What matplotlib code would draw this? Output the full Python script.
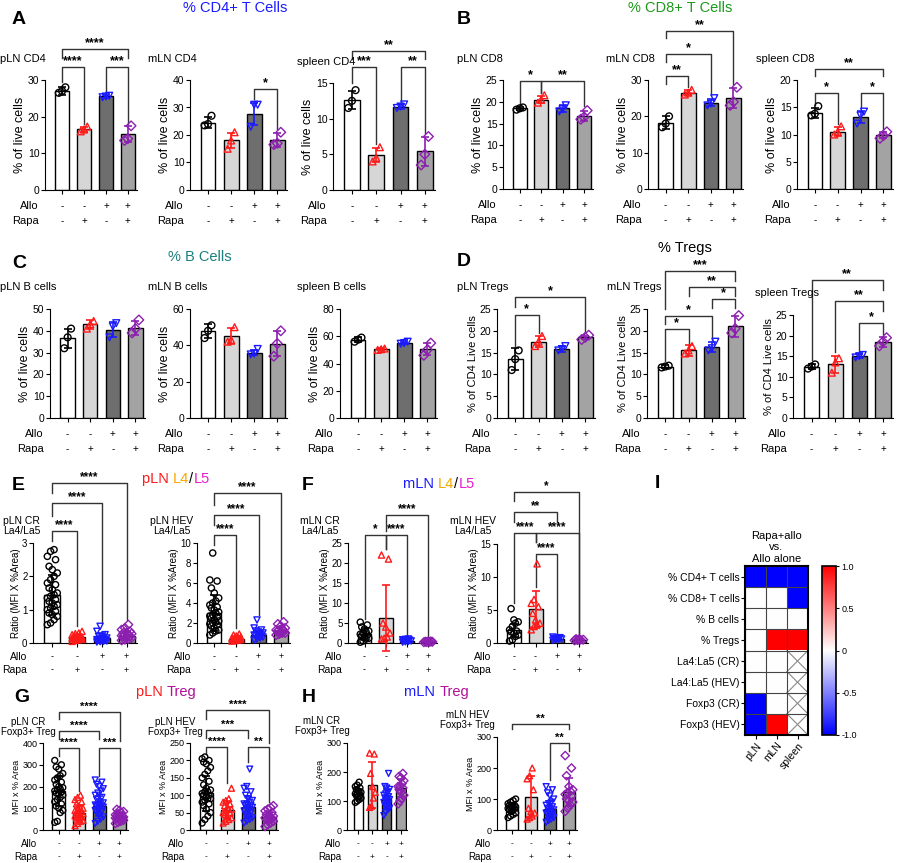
import numpy as np
import matplotlib
matplotlib.use("Agg")
import matplotlib.pyplot as plt
from matplotlib.colors import LinearSegmentedColormap

plt.rcParams['font.family'] = ['Liberation Sans', 'DejaVu Sans']

W, H = 900, 863
fig = plt.figure(figsize=(W / 100, H / 100), dpi=100)

bar_colors = ['white', '#d6d6d6', '#6e6e6e', '#a3a3a3']
pt_colors = ['black', '#ff1a1a', '#1a1aff', '#8c1fb0']
pt_markers = ['o', '^', 'v', 'D']
allo_signs = ['-', '-', '+', '+']
rapa_signs = ['-', '+', '-', '+']

# ---------------- data ----------------
# A: % CD4+ T cells
pln_cd4_mean = [27, 16.5, 25.5, 15.2]
pln_cd4_sd = [1.0, 0.8, 0.3, 2.2]
pln_cd4_pts = [[26.5, 27, 28], [16, 16.5, 17.3], [25.3, 25.5, 25.7], [13.5, 14, 17.5]]
mln_cd4_mean = [24.5, 18, 27.5, 18.3]
mln_cd4_sd = [2, 2.8, 4, 2.5]
mln_cd4_pts = [[23.5, 24, 27], [15, 18, 21], [23, 31, 31], [16.5, 17, 21]]
spl_cd4_mean = [12.6, 4.9, 11.7, 5.4]
spl_cd4_sd = [1.3, 1.0, 0.3, 2.0]
spl_cd4_pts = [[11.5, 12.5, 14], [4, 4.5, 6], [11.5, 11.7, 12], [3.5, 5, 7.5]]

# B: % CD8+ T cells
pln_cd8_mean = [18.5, 20.5, 18.5, 16.8]
pln_cd8_sd = [0.3, 0.8, 0.8, 1.2]
pln_cd8_pts = [[18.2, 18.5, 18.7], [19.8, 20.5, 21.5], [17.8, 18.3, 19.2], [16, 16.5, 18]]
mln_cd8_mean = [18.3, 26.5, 23.8, 25]
mln_cd8_sd = [1.7, 0.7, 1.0, 2.7]
mln_cd8_pts = [[17, 18, 20], [26, 26.5, 27.3], [23, 23.5, 25], [23, 24, 28]]
spl_cd8_mean = [14, 10.5, 13.2, 9.9]
spl_cd8_sd = [0.9, 0.8, 1.1, 0.6]
spl_cd8_pts = [[13.5, 13.8, 15.2], [10, 10.5, 11.5], [12, 13.5, 14.2], [9.3, 9.8, 10.5]]

# C: % B cells
pln_b_mean = [36.5, 43, 40.5, 41.5]
pln_b_sd = [4.3, 2, 3.5, 3.2]
pln_b_pts = [[32, 37, 41], [41, 43, 44.5], [37, 42, 43.5], [39, 41, 45]]
mln_b_mean = [48, 45, 36, 41]
mln_b_sd = [4, 4.5, 1.5, 7]
mln_b_pts = [[44, 48, 51], [42, 43, 50], [35, 35.5, 38], [34, 41, 48]]
spl_b_mean = [57.5, 50.5, 55, 50.5]
spl_b_sd = [1.7, 0.8, 1, 4.5]
spl_b_pts = [[56, 57.5, 59], [50, 50.5, 51], [54.5, 55, 56], [46, 50, 55]]

# D: % Tregs
pln_treg_mean = [13.5, 17.5, 15.8, 18.5]
pln_treg_sd = [2.5, 1.3, 0.7, 0.4]
pln_treg_pts = [[11, 13.5, 15.5], [16.5, 17.5, 18.8], [15.5, 15.8, 16.5], [18, 18.5, 19]]
mln_treg_mean = [11.8, 15.5, 16.3, 21]
mln_treg_sd = [0.3, 1.2, 1.2, 2.5]
mln_treg_pts = [[11.6, 11.8, 12], [14.8, 15.5, 16.5], [15.5, 16, 17.5], [19.5, 20.5, 23.5]]
spl_treg_mean = [12.5, 13, 15, 18.5]
spl_treg_sd = [0.5, 2, 0.5, 1.2]
spl_treg_pts = [[12, 12.5, 13], [11, 13.5, 14.5], [14.7, 15, 15.3], [17.5, 18.5, 19.5]]

# E: pLN La4/La5
pln_cr_la_mean = [1.45, 0.18, 0.15, 0.22]
pln_cr_la_sd = [0.6, 0.1, 0.15, 0.12]
pln_cr_la_pts = [
    [2.8, 2.75, 2.6, 2.5, 2.3, 2.1, 2.0, 1.9, 1.8, 1.75, 1.6, 1.5, 1.45, 1.4, 1.3, 1.25,
     1.2, 1.15, 1.1, 1.0, 0.95, 0.9, 0.85, 0.8, 0.7, 0.6, 0.55, 1.35, 1.05, 1.65, 2.2],
    [0.35, 0.3, 0.28, 0.25, 0.22, 0.2, 0.18, 0.16, 0.15, 0.13, 0.12, 0.1, 0.08, 0.05, 0.2, 0.17, 0.14, 0.11],
    [0.5, 0.35, 0.25, 0.2, 0.15, 0.12, 0.1, 0.08, 0.06, 0.05, 0.04, 0.03, 0.1, 0.14, 0.18, 0.07],
    [0.55, 0.45, 0.4, 0.35, 0.3, 0.28, 0.25, 0.22, 0.2, 0.18, 0.15, 0.12, 0.1, 0.08, 0.3, 0.2, 0.25]]
pln_hev_la_mean = [3.0, 0.45, 0.8, 1.2]
pln_hev_la_sd = [1.8, 0.2, 0.4, 0.4]
pln_hev_la_pts = [
    [9, 6.3, 6.2, 5.5, 5, 4.5, 4.2, 3.8, 3.5, 3.3, 3.1, 3, 2.8, 2.6, 2.5, 2.3, 2.1, 2, 1.9,
     1.7, 1.5, 1.3, 1.2, 1, 0.8, 3.6, 2.7, 2.2, 1.8, 4],
    [0.9, 0.8, 0.7, 0.6, 0.55, 0.5, 0.45, 0.4, 0.35, 0.3, 0.25, 0.2, 0.5, 0.4],
    [2.3, 1.5, 1.3, 1.2, 1.1, 1, 0.9, 0.8, 0.75, 0.7, 0.6, 0.5, 0.4, 0.3, 0.9, 0.8],
    [2.1, 1.9, 1.7, 1.5, 1.4, 1.3, 1.2, 1.1, 1, 0.9, 0.8, 1.2, 1.0, 1.3]]

# F: mLN La4/La5
mln_cr_la_mean = [2.2, 6.2, 0.5, 0.3]
mln_cr_la_sd = [1.5, 8.2, 0.3, 0.1]
mln_cr_la_pts = [
    [5.2, 4.5, 4, 3.5, 3, 2.5, 2, 1.8, 1.5, 1.2, 1, 0.5, 0.2, 2.2, 2.8],
    [22, 21, 5, 4, 2.5, 1.5, 1, 1.2],
    [1, 0.9, 0.8, 0.7, 0.6, 0.5, 0.4, 0.3, 0.2, 0.6],
    [0.4, 0.35, 0.3, 0.25, 0.2, 0.3, 0.35]]
mln_hev_la_mean = [1.9, 5.1, 0.6, 0.5]
mln_hev_la_sd = [1.0, 2.8, 0.2, 0.1]
mln_hev_la_pts = [
    [5.2, 3.5, 3.2, 3, 2.5, 2, 1.8, 1.5, 1.2, 1, 0.5, 0.3, 1.7],
    [12, 6.6, 6, 5.5, 4.5, 3.5, 2.8, 2.5, 2, 3],
    [0.9, 0.8, 0.7, 0.6, 0.5, 0.4, 0.6, 0.7],
    [0.6, 0.55, 0.5, 0.45, 0.4, 0.5]]

# G: pLN Foxp3+ Treg
pln_cr_fox_mean = [180, 80, 110, 58]
pln_cr_fox_sd = [70, 35, 45, 18]
pln_cr_fox_pts = [
    [320, 300, 290, 280, 260, 250, 240, 230, 220, 210, 200, 195, 190, 180, 170, 160, 150,
     140, 130, 120, 110, 100, 90, 80, 40, 35, 185, 175, 165],
    [160, 150, 140, 130, 120, 110, 100, 95, 90, 85, 80, 75, 70, 65, 60, 55, 50, 45, 40,
     30, 20, 100, 80, 70],
    [230, 220, 210, 200, 190, 180, 170, 160, 150, 140, 130, 120, 115, 110, 105, 100, 95,
     90, 85, 80, 70, 60, 50, 40, 30, 125, 115, 110, 105],
    [95, 90, 85, 80, 75, 70, 65, 60, 58, 55, 52, 50, 48, 45, 40, 35, 30, 60, 55, 65]]
pln_hev_fox_mean = [105, 57, 67, 37]
pln_hev_fox_sd = [50, 25, 30, 15]
pln_hev_fox_pts = [
    [210, 205, 200, 195, 190, 180, 170, 160, 150, 140, 130, 120, 115, 110, 105, 100, 95,
     90, 85, 80, 75, 70, 60, 50, 40, 30, 20, 100, 110, 90],
    [120, 90, 85, 80, 75, 70, 65, 60, 55, 50, 45, 40, 35, 30, 25, 20, 60, 50],
    [175, 125, 120, 110, 100, 90, 85, 80, 75, 70, 65, 60, 55, 50, 45, 40, 35, 30, 25, 20,
     70, 65, 60, 75],
    [70, 65, 60, 55, 50, 45, 40, 38, 35, 32, 30, 28, 25, 20, 15, 10, 40, 35]]

# H: mLN Foxp3+ Treg
mln_cr_fox_mean = [125, 155, 107, 145]
mln_cr_fox_sd = [18, 80, 35, 30]
mln_cr_fox_pts = [
    [165, 155, 150, 145, 140, 135, 130, 125, 120, 115, 110, 105, 100, 95, 130, 120, 125],
    [265, 262, 195, 150, 130, 110, 82, 78],
    [195, 150, 145, 140, 130, 125, 120, 115, 110, 105, 100, 95, 90, 85, 80, 75, 70, 60,
     50, 110, 100],
    [195, 185, 180, 170, 160, 150, 140, 130, 120, 110, 100, 90, 150, 145]]
mln_hev_fox_mean = [73, 108, 67, 122]
mln_hev_fox_sd = [15, 65, 25, 45]
mln_hev_fox_pts = [
    [100, 95, 90, 85, 80, 78, 75, 72, 70, 68, 65, 60, 55, 50, 45, 40, 75, 80],
    [200, 175, 165, 130, 70, 55, 45, 40, 35, 60],
    [140, 130, 120, 110, 100, 90, 85, 80, 75, 70, 65, 60, 55, 50, 45, 40, 35, 30, 25, 70,
     60, 50],
    [240, 200, 175, 140, 130, 125, 120, 115, 110, 100, 95, 90, 80, 70, 60]]

# I: heatmap
heat_rows = ['% CD4+ T cells', '% CD8+ T cells', '% B cells', '% Tregs',
             'La4:La5 (CR)', 'La4:La5 (HEV)', 'Foxp3 (CR)', 'Foxp3 (HEV)']
heat_cols = ['pLN', 'mLN', 'spleen']
heat_vals = np.array([
    [-1, -1, -1],
    [0, 0, -1],
    [0, 0, 0],
    [0, 1, 1],
    [0, 0, np.nan],
    [0, 0, np.nan],
    [-1, 0, np.nan],
    [-1, 1, np.nan]])


# ---------------- helpers ----------------
def px_axes(l, r, t, b):
    return fig.add_axes([l / W, 1 - b / H, (r - l) / W, (b - t) / H])


def bar_panel(box, mean, sd, pts, ymax, step, ylabel, title, title_xy, brackets,
              fs=7.5, lfs=9, ms=6, small=False, tha='left'):
    ax = px_axes(*box)
    x = np.arange(4)
    for i in range(4):
        ax.bar(i, mean[i], width=0.64, color=bar_colors[i], edgecolor='black',
               linewidth=1, zorder=1)
        p = np.asarray(pts[i], dtype=float)
        n = len(p)
        if n <= 3:
            off = np.linspace(-0.15, 0.15, n)
        else:
            order = np.argsort(p)
            off = np.zeros(n)
            off[order] = np.tile([-0.2, -0.07, 0.07, 0.2, 0.0, -0.13, 0.13], n)[:n]
        ax.scatter(i + off, p, marker=pt_markers[i], s=ms * 4, facecolors='none',
                   edgecolors=pt_colors[i], linewidths=1, zorder=3, clip_on=False)
        ax.errorbar(i, mean[i], yerr=sd[i], color=pt_colors[i], capsize=3,
                    elinewidth=1.2, capthick=1.2, zorder=4, clip_on=False)
    ax.set_xlim(-0.78, 3.42)
    ax.set_ylim(0, ymax)
    ax.set_yticks(np.arange(0, ymax + step / 2, step))
    ax.set_xticks(x)
    ax.set_xticklabels([])
    ax.tick_params(axis='y', labelsize=fs, length=3, pad=1)
    ax.tick_params(axis='x', length=3)
    for s in ['top', 'right']:
        ax.spines[s].set_visible(False)
    ax.set_ylabel(ylabel, fontsize=lfs, labelpad=1)
    off1, off2 = (-16, -31) if not small else (-14, -27)
    for i in range(4):
        for sign, dy in ((allo_signs[i], off1), (rapa_signs[i], off2)):
            ax.annotate(sign, xy=(i, 0), xycoords=('data', 'axes fraction'),
                        xytext=(0, dy), textcoords='offset pixels', ha='center',
                        va='center', fontsize=fs - 0.5)
    for lab, dy in (('Allo', off1), ('Rapa', off2)):
        ax.annotate(lab, xy=(-0.78, 0), xycoords=('data', 'axes fraction'),
                    xytext=(-6, dy), textcoords='offset pixels', ha='right',
                    va='center', fontsize=fs + 0.5)
    for (i, j, y, lab, yi, yj) in brackets:
        ax.plot([i, i, j, j], [yi, y, y, yj], color='#333333', lw=1, clip_on=False)
        ax.text((i + j) / 2, y, lab, ha='center', va='bottom', fontsize=fs + 1.5,
                fontweight='bold', linespacing=0.8)
    fig.text(title_xy[0] / W, 1 - title_xy[1] / H, title, fontsize=fs + 0.5,
             ha=tha, va='center', linespacing=1.1, multialignment='center')
    return ax


def color_title(x, y, pieces, fs=10.5):
    r = fig.canvas.get_renderer()
    cx = x
    for txt, col in pieces:
        t = fig.text(cx / W, 1 - y / H, txt, color=col, fontsize=fs, ha='left',
                     va='center')
        cx += t.get_window_extent(r).width


def letter(x, y, s):
    fig.text(x / W, 1 - y / H, s, fontsize=14, fontweight='bold', ha='left',
             va='center')


# ---------------- panels ----------------
ylab = '% of live cells'
bar_panel((45, 137, 80, 190), pln_cd4_mean, pln_cd4_sd, pln_cd4_pts, 30, 10, ylab,
          'pLN CD4', (0, 59),
          [(0, 1, 33.5, '****', 29.5, 18), (2, 3, 33.5, '***', 27, 18),
           (0, 3, 38.5, '****', 36, 36)])
bar_panel((190, 287, 80, 190), mln_cd4_mean, mln_cd4_sd, mln_cd4_pts, 40, 10, ylab,
          'mLN CD4', (148, 59), [(2, 3, 36.7, '*', 33, 22)])
bar_panel((333, 435, 83, 190), spl_cd4_mean, spl_cd4_sd, spl_cd4_pts, 15, 5, ylab,
          'spleen CD4', (297, 62),
          [(0, 1, 17.2, '***', 15, 6.5), (2, 3, 17.2, '**', 12.5, 8),
           (0, 3, 19.5, '**', 18.3, 18.3)])

bar_panel((503, 593, 80, 189), pln_cd8_mean, pln_cd8_sd, pln_cd8_pts, 25, 5, ylab,
          'pLN CD8', (457, 59),
          [(0, 1, 24.8, '*', 19.5, 22), (1, 3, 24.8, '**', 22, 19)])
bar_panel((648, 743, 80, 189), mln_cd8_mean, mln_cd8_sd, mln_cd8_pts, 30, 10, ylab,
          'mLN CD8', (606, 59),
          [(0, 1, 31.1, '**', 29, 28), (0, 2, 37.2, '*', 35, 26),
           (0, 3, 43.5, '**', 41.5, 29)])
bar_panel((797, 893, 80, 189), spl_cd8_mean, spl_cd8_sd, spl_cd8_pts, 20, 5, ylab,
          'spleen CD8', (756, 59),
          [(0, 1, 17.6, '*', 15.5, 12), (2, 3, 17.6, '*', 15, 11),
           (0, 3, 22, '**', 20.8, 20.8)])

bar_panel((50, 145, 309, 418), pln_b_mean, pln_b_sd, pln_b_pts, 50, 10, ylab,
          'pLN B cells', (0, 287), [])
bar_panel((190, 287, 309, 418), mln_b_mean, mln_b_sd, mln_b_pts, 60, 20, ylab,
          'mLN B cells', (148, 287), [])
bar_panel((340, 437, 309, 418), spl_b_mean, spl_b_sd, spl_b_pts, 80, 20, ylab,
          'spleen B cells', (297, 287), [])

ylab_t = '% of CD4 Live cells'
bar_panel((497, 595, 309, 418), pln_treg_mean, pln_treg_sd, pln_treg_pts, 25, 5, ylab_t,
          'pLN Tregs', (457, 287),
          [(0, 1, 23.6, '*', 16.5, 19.5), (0, 3, 27.7, '*', 25.5, 20)], lfs=8)
bar_panel((647, 745, 309, 418), mln_treg_mean, mln_treg_sd, mln_treg_pts, 25, 5, ylab_t,
          'mLN Tregs', (607, 287),
          [(0, 1, 20.4, '*', 13, 17), (0, 2, 23.4, '*', 21.5, 18),
           (2, 3, 27.3, '*', 25.3, 25.3), (1, 3, 30, '**', 28, 28),
           (0, 3, 33.7, '***', 25, 31.5)], lfs=8)
bar_panel((793, 893, 315, 418), spl_treg_mean, spl_treg_sd, spl_treg_pts, 25, 5, ylab_t,
          'spleen Tregs', (755, 293),
          [(2, 3, 23, '*', 16.5, 20.5), (1, 3, 28.4, '**', 16, 26),
           (0, 3, 33.5, '**', 14, 31)], lfs=8)

ylab_r = 'Ratio (MFI X %Area)'
bar_panel((33, 137, 543, 643), pln_cr_la_mean, pln_cr_la_sd, pln_cr_la_pts, 3, 1, ylab_r,
          'pLN CR\nLa4/La5', (3, 526),
          [(0, 1, 3.35, '****', 3.05, 0.5), (0, 2, 4.2, '****', 3.8, 0.6),
           (0, 3, 4.8, '****', 4.5, 0.7)], fs=7, lfs=7, ms=5, small=True)
bar_panel((197, 290, 543, 643), pln_hev_la_mean, pln_hev_la_sd, pln_hev_la_pts, 10, 2,
          ylab_r, 'pLN HEV\nLa4/La5', (150, 526),
          [(0, 1, 10.8, '****', 9.8, 1.5), (0, 2, 12.8, '****', 11.8, 2.8),
           (0, 3, 15, '****', 13.8, 2.5)], fs=7, lfs=7, ms=5, small=True)
bar_panel((348, 437, 543, 643), mln_cr_la_mean, mln_cr_la_sd, mln_cr_la_pts, 25, 5,
          ylab_r, 'mLN CR\nLa4/La5', (300, 526),
          [(0, 1, 27, '*', 6, 23.5), (1, 2, 27, '****', 23.5, 2),
           (1, 3, 32, '****', 28, 1)], fs=7, lfs=7, ms=5, small=True)
bar_panel((497, 588, 544, 643), mln_hev_la_mean, mln_hev_la_sd, mln_hev_la_pts, 15, 5,
          ylab_r, 'mLN HEV\nLa4/La5', (450, 526),
          [(1, 2, 13.5, '****', 8.5, 1.2), (0, 1, 16.7, '****', 6, 15.3),
           (1, 3, 16.7, '****', 15.3, 1.2), (0, 2, 19.8, '**', 18.3, 18.3),
           (0, 3, 22.9, '*', 21.5, 1.5)], fs=7, lfs=7, ms=5, small=True)

ylab_m = 'MFI x % Area'
bar_panel((43, 128, 743, 830), pln_cr_fox_mean, pln_cr_fox_sd, pln_cr_fox_pts, 400, 100,
          ylab_m, 'pLN CR\nFoxp3+ Treg', (1, 727),
          [(0, 1, 377, '****', 340, 180), (2, 3, 377, '***', 250, 110),
           (0, 2, 455, '****', 420, 420), (0, 3, 543, '****', 510, 410)],
          fs=6.5, lfs=6.5, ms=4.5, small=True)
bar_panel((190, 278, 743, 830), pln_hev_fox_mean, pln_hev_fox_sd, pln_hev_fox_pts, 250,
          50, ylab_m, 'pLN HEV\nFoxp3+ Treg', (148, 727),
          [(0, 1, 239, '****', 218, 135), (2, 3, 239, '**', 195, 80),
           (0, 2, 287, '***', 265, 265), (0, 3, 345, '****', 320, 250)],
          fs=6.5, lfs=6.5, ms=4.5, small=True)
bar_panel((347, 407, 743, 830), mln_cr_fox_mean, mln_cr_fox_sd, mln_cr_fox_pts, 300, 100,
          ylab_m, 'mLN CR\nFoxp3+ Treg', (322, 726), [],
          fs=6.5, lfs=6.5, ms=4.5, small=True, tha='center')
bar_panel((497, 577, 737, 830), mln_hev_fox_mean, mln_hev_fox_sd, mln_hev_fox_pts, 300,
          100, ylab_m, 'mLN HEV\nFoxp3+ Treg', (440, 720),
          [(2, 3, 282, '**', 160, 255), (0, 3, 343, '**', 325, 325)],
          fs=6.5, lfs=6.5, ms=4.5, small=True)

# heatmap
axh = px_axes(745, 808, 566, 735)
cmap = LinearSegmentedColormap.from_list('bwr2', ['#0000ff', 'white', '#ff0000'])
im = axh.imshow(heat_vals, cmap=cmap, vmin=-1, vmax=1, aspect='auto')
nr, nc = heat_vals.shape
for r in range(nr):
    for c in range(nc):
        if np.isnan(heat_vals[r, c]):
            axh.plot([c - 0.5, c + 0.5], [r - 0.5, r + 0.5], color='#888888', lw=0.8)
            axh.plot([c - 0.5, c + 0.5], [r + 0.5, r - 0.5], color='#888888', lw=0.8)
for r in range(nr + 1):
    axh.axhline(r - 0.5, color='#444444', lw=0.8)
for c in range(nc + 1):
    axh.axvline(c - 0.5, color='#444444', lw=0.8)
for s in axh.spines.values():
    s.set_linewidth(1.5)
axh.set_xlim(-0.5, nc - 0.5)
axh.set_ylim(nr - 0.5, -0.5)
axh.set_yticks(range(nr))
axh.set_yticklabels(heat_rows, fontsize=7.5)
axh.set_xticks(range(nc))
axh.set_xticklabels(heat_cols, fontsize=7.5, rotation=50, ha='right',
                    rotation_mode='anchor')
axh.tick_params(length=3, pad=1)
axh.set_title('Rapa+allo\nvs.\nAllo alone', fontsize=8, pad=3, linespacing=1.2)
axc = px_axes(822, 836, 566, 735)
cb = fig.colorbar(im, cax=axc, ticks=[-1, -0.5, 0, 0.5, 1])
cb.ax.set_yticklabels(['-1.0', '-0.5', '0', '0.5', '1.0'], fontsize=6.5)
cb.ax.tick_params(length=2, pad=2)
cb.outline.set_linewidth(1.2)

# titles and letters
fig.text(235 / W, 1 - 8 / H, '% CD4+ T Cells', color='#1a1aff', fontsize=10.5,
         ha='center', va='center')
fig.text(680 / W, 1 - 8 / H, '% CD8+ T Cells', color='#1a9a1a', fontsize=10.5,
         ha='center', va='center')
fig.text(200 / W, 1 - 257 / H, '% B Cells', color='#1a7f7f', fontsize=10.5,
         ha='center', va='center')
fig.text(685 / W, 1 - 248 / H, '% Tregs', color='black', fontsize=10.5,
         ha='center', va='center')
color_title(142, 479, [('pLN ', '#ff1a1a'), ('L4', '#f5a800'), ('/', 'black'),
                       ('L5', '#e81ccf')])
color_title(403, 484, [('mLN ', '#1a1aff'), ('L4', '#f5a800'), ('/', 'black'),
                       ('L5', '#e81ccf')])
color_title(136, 692, [('pLN ', '#ff1a1a'), ('Treg', '#b0109b')])
color_title(404, 692, [('mLN ', '#1a1aff'), ('Treg', '#b0109b')])
letter(12, 19, 'A')
letter(457, 19, 'B')
letter(12, 263, 'C')
letter(457, 262, 'D')
letter(12, 485, 'E')
letter(302, 485, 'F')
letter(14, 697, 'G')
letter(302, 697, 'H')
letter(655, 483, 'I')

fig.savefig('out.png', dpi=100)
